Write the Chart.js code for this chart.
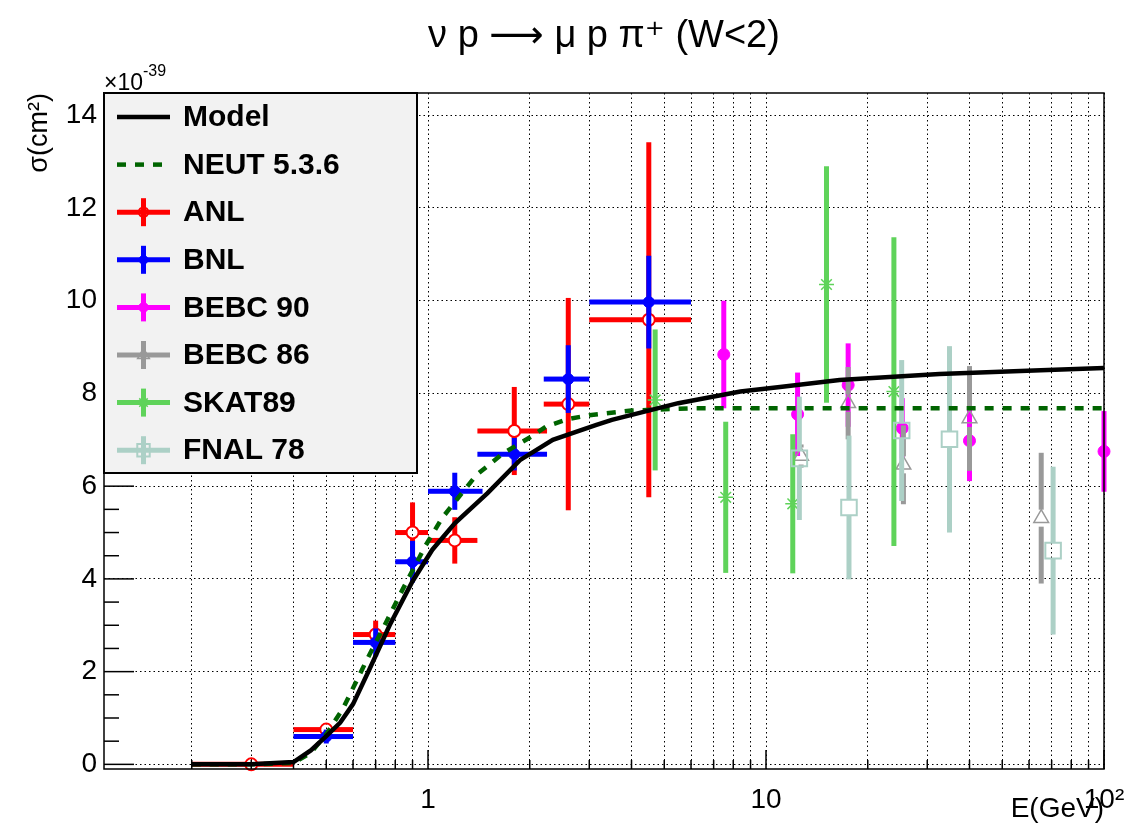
<!DOCTYPE html>
<html><head><meta charset="utf-8">
<script src="https://cdn.jsdelivr.net/npm/chart.js@4.4.0/dist/chart.umd.min.js"></script>
<style>html,body{margin:0;padding:0;background:#fff}</style>
</head><body>
<canvas id="c" width="1143" height="830"></canvas>
<script>
// ---------- data (E in GeV, sigma in 1e-39 cm^2) ----------
const modelE     = [0.2, 0.3, 0.4, 0.45, 0.5, 0.55, 0.6, 0.67, 0.77, 0.9, 1.03, 1.2, 1.5, 1.87, 2.34, 3.15, 3.5, 5.5, 8.4, 11, 16.5, 32.6, 65, 100];
const modelSigma = [0.0, 0.0, 0.05, 0.3, 0.61, 0.9, 1.3, 2.04, 3.0, 3.95, 4.63, 5.2, 5.85, 6.56, 7.0, 7.32, 7.43, 7.79, 8.04, 8.14, 8.29, 8.42, 8.50, 8.55];

const neutE     = [0.2, 0.3, 0.4, 0.45, 0.5, 0.56, 0.66, 0.75, 0.83, 0.98, 1.1, 1.39, 1.67, 2.0, 2.24, 2.6, 3.0, 4.0, 6.0, 10, 30, 100];
const neutSigma = [0.0, 0.0, 0.03, 0.25, 0.65, 1.2, 2.26, 3.05, 3.69, 4.7, 5.31, 6.24, 6.71, 7.05, 7.29, 7.45, 7.53, 7.63, 7.68, 7.68, 7.68, 7.68];

const anlE     = [0.3, 0.5, 0.7, 0.9, 1.2, 1.8, 2.6, 4.5];
const anlELow  = [0.2, 0.4, 0.6, 0.8, 1.0, 1.4, 2.2, 3.0];
const anlEHigh = [0.4, 0.6, 0.8, 1.0, 1.4, 2.25, 3.0, 6.0];
const anlSigma = [0.0, 0.75, 2.8, 5.0, 4.83, 7.19, 7.77, 9.59];
const anlErr   = [0.03, 0.1, 0.3, 0.65, 0.5, 0.95, 2.29, 3.83];

const bnlE     = [0.5, 0.7, 0.9, 1.2, 1.8, 2.6, 4.5];
const bnlELow  = [0.4, 0.6, 0.8, 1.0, 1.4, 2.2, 3.0];
const bnlEHigh = [0.6, 0.8, 1.0, 1.45, 2.25, 3.0, 6.0];
const bnlSigma = [0.6, 2.63, 4.37, 5.89, 6.69, 8.31, 9.97];
const bnlErr   = [0.15, 0.3, 0.45, 0.4, 0.35, 0.73, 1.0];

const bebc90E     = [7.5, 12.4, 17.5, 25.3, 40, 100];
const bebc90Sigma = [8.84, 7.55, 8.18, 7.25, 6.98, 6.75];
const bebc90Err   = [1.16, 0.9, 0.9, 0.65, 0.87, 0.87];

const bebc86E     = [12.7, 17.5, 25.5, 40, 65.2];
const bebc86Sigma = [6.65, 7.79, 6.46, 7.46, 5.31];
const bebc86Err   = [0.25, 0.78, 0.85, 1.13, 1.41];

const skatE     = [4.7, 7.6, 12.0, 15.1, 23.9];
const skatSigma = [7.86, 5.76, 5.62, 10.35, 8.04];
const skatErr   = [1.52, 1.63, 1.5, 2.55, 3.33];

const fnalE     = [12.55, 17.6, 25.2, 34.9, 70.7];
const fnalSigma = [6.6, 5.54, 7.2, 7.01, 4.61];
const fnalErr   = [1.33, 1.55, 1.52, 2.01, 1.81];

const xMajorValues = [1, 10, 100];
const xMajorLabels = ['1', '10', '10\u00B2'];
const yTickValues  = [0, 2, 4, 6, 8, 10, 12, 14];

// ---------- helpers ----------
const pts = (xs, ys) => xs.map((v, i) => ({x: v, y: ys[i]}));
const FONT = "'Liberation Sans', Arial, Helvetica, 'DejaVu Sans', sans-serif";

// log grid positions (2..9 x decades)
const xGridValues = [];
for (let d = -1; d <= 2; d++) {
  for (let m = 1; m <= 9; m++) {
    const v = Number((m * Math.pow(10, d)).toPrecision(6));
    if (v >= 0.11 && v <= 100) xGridValues.push(v);
  }
}

function dataSet(label, color, xs, ys, errs, opts) {
  return Object.assign({
    label, data: pts(xs, ys), yErr: errs,
    borderColor: color, backgroundColor: color,
    pointBorderColor: color, pointBackgroundColor: color,
    showLine: false, clip: false, pointHoverRadius: 0, barWidth: 5
  }, opts);
}

const datasets = [
  {label: 'Model', data: pts(modelE, modelSigma), showLine: true, borderColor: '#000', backgroundColor: '#000',
   borderWidth: 4.5, pointRadius: 0, tension: 0, order: 0, legendType: 'line'},
  {label: 'NEUT 5.3.6', data: pts(neutE, neutSigma), showLine: true, borderColor: '#006400', backgroundColor: '#006400',
   borderWidth: 4.5, borderDash: [9, 9], pointRadius: 0, tension: 0, order: 1, legendType: 'dash'},
  dataSet('ANL', '#ff0000', anlE, anlSigma, anlErr, {xLow: anlELow, xHigh: anlEHigh, pointStyle: 'circle', pointRadius: 6,
   pointBackgroundColor: 'rgba(0,0,0,0)', pointBorderWidth: 2, hollow: true, order: 7}),
  dataSet('BNL', '#0000ff', bnlE, bnlSigma, bnlErr, {xLow: bnlELow, xHigh: bnlEHigh, pointStyle: 'circle', pointRadius: 5.5,
   pointBorderWidth: 1, order: 6}),
  dataSet('BEBC 90', '#ff00ff', bebc90E, bebc90Sigma, bebc90Err, {pointStyle: 'circle', pointRadius: 6, pointBorderWidth: 1, order: 5}),
  dataSet('BEBC 86', '#999999', bebc86E, bebc86Sigma, bebc86Err, {pointStyle: 'triangle', pointRadius: 8.5,
   pointBackgroundColor: 'rgba(0,0,0,0)', pointBorderWidth: 1.5, hollow: true, order: 4}),
  dataSet('SKAT89', '#5fd35a', skatE, skatSigma, skatErr, {pointStyle: 'star', pointRadius: 7.5, pointBorderWidth: 1.5, order: 3}),
  dataSet('FNAL 78', '#acd0c6', fnalE, fnalSigma, fnalErr, {pointStyle: 'rect', pointRadius: 11,
   pointBackgroundColor: 'rgba(0,0,0,0)', pointBorderWidth: 2, hollow: true, order: 2})
];

// ---------- plugins ----------
const errorBars = {
  id: 'errorBars',
  beforeDatasetDraw(chart, args) {
    const ds = chart.data.datasets[args.index];
    if (!ds.yErr) return;
    const xs = chart.scales.x, ys = chart.scales.y, ctx = chart.ctx;
    ctx.save();
    ctx.strokeStyle = ds.borderColor;
    ctx.lineWidth = ds.barWidth;
    ctx.lineCap = 'butt';
    const seg = (x1, y1, x2, y2) => { ctx.beginPath(); ctx.moveTo(x1, y1); ctx.lineTo(x2, y2); ctx.stroke(); };
    ds.data.forEach((p, i) => {
      const px = xs.getPixelForValue(p.x), py = ys.getPixelForValue(p.y);
      const gap = ds.hollow ? ds.pointRadius * (ds.pointStyle === 'rect' ? 0.72 : 1) : 0;
      const yt = ys.getPixelForValue(p.y + ds.yErr[i]);
      const yb = ys.getPixelForValue(p.y - ds.yErr[i]);
      if (yt < py - gap) seg(px, yt, px, py - gap);
      if (yb > py + gap) seg(px, py + gap, px, yb);
      if (ds.xLow) {
        const xl = xs.getPixelForValue(ds.xLow[i]), xr = xs.getPixelForValue(ds.xHigh[i]);
        if (xl < px - gap) seg(xl, py, px - gap, py);
        if (xr > px + gap) seg(px + gap, py, xr, py);
      }
    });
    ctx.restore();
  }
};

const decor = {
  id: 'decor',
  afterDraw(chart) {
    const ctx = chart.ctx, a = chart.chartArea, xs = chart.scales.x, ys = chart.scales.y;
    ctx.save();
    // inside ticks
    ctx.strokeStyle = '#000'; ctx.lineWidth = 1.5; ctx.setLineDash([]);
    xGridValues.forEach(v => {
      const px = xs.getPixelForValue(v);
      const len = xMajorValues.includes(v) ? 19 : 9;
      ctx.beginPath(); ctx.moveTo(px, a.bottom); ctx.lineTo(px, a.bottom - len); ctx.stroke();
    });
    for (let k = 0; k <= 28; k++) {
      const v = k * 0.5;
      const py = ys.getPixelForValue(v);
      const len = (k % 4 === 0) ? 30 : 15;
      ctx.beginPath(); ctx.moveTo(a.left, py); ctx.lineTo(a.left + len, py); ctx.stroke();
    }
    // frame
    ctx.lineWidth = 1.5;
    ctx.strokeRect(a.left, a.top, a.right - a.left, a.bottom - a.top);
    // exponent label
    ctx.fillStyle = '#000';
    ctx.textBaseline = 'alphabetic'; ctx.textAlign = 'left';
    ctx.font = '23px ' + FONT;
    ctx.fillText('\u00D710', a.left, a.top - 3);
    const w = ctx.measureText('\u00D710').width;
    ctx.font = '16px ' + FONT;
    ctx.fillText('-39', a.left + w, a.top - 17);

    // legend
    const L = {x: a.left, y: a.top, w: 313, h: 380};
    ctx.fillStyle = '#f2f2f2';
    ctx.fillRect(L.x, L.y, L.w, L.h);
    ctx.strokeStyle = '#000'; ctx.lineWidth = 2;
    ctx.strokeRect(L.x, L.y, L.w, L.h);
    const x1 = L.x + 13, x2 = L.x + 66, xc = (x1 + x2) / 2;
    chart.data.datasets.forEach((ds, i) => {
      const yc = L.y + 24 + i * 47.6;
      ctx.save();
      if (ds.legendType === 'line' || ds.legendType === 'dash') {
        ctx.strokeStyle = ds.borderColor; ctx.lineWidth = ds.borderWidth;
        ctx.setLineDash(ds.borderDash || []);
        ctx.beginPath(); ctx.moveTo(x1, yc); ctx.lineTo(x2, yc); ctx.stroke();
      } else {
        ctx.strokeStyle = ds.borderColor; ctx.lineWidth = 5; ctx.setLineDash([]);
        ctx.beginPath(); ctx.moveTo(x1, yc); ctx.lineTo(x2, yc); ctx.stroke();
        ctx.beginPath(); ctx.moveTo(xc, yc - 14); ctx.lineTo(xc, yc + 14); ctx.stroke();
        ctx.fillStyle = ds.pointBackgroundColor; ctx.strokeStyle = ds.pointBorderColor; ctx.lineWidth = ds.pointBorderWidth;
        Chart.helpers.drawPoint(ctx, {pointStyle: ds.pointStyle, radius: ds.pointRadius * 0.8, borderWidth: ds.pointBorderWidth}, xc, yc);
      }
      ctx.restore();
      ctx.fillStyle = '#000';
      ctx.font = 'bold 30px ' + FONT;
      ctx.textAlign = 'left'; ctx.textBaseline = 'middle';
      ctx.fillText(ds.label, L.x + 79, yc + 1);
    });
    ctx.restore();
  }
};

// ---------- chart ----------
new Chart(document.getElementById('c'), {
  type: 'scatter',
  data: {datasets},
  plugins: [errorBars, decor],
  options: {
    responsive: false, animation: false,
    layout: {padding: {left: 0, right: 39, top: 0, bottom: 0}},
    plugins: {
      legend: {display: false}, tooltip: {enabled: false},
      title: {display: true, text: '\u03BD p \u27F6 \u03BC p \u03C0\u207A (W<2)', fullSize: false,
        color: '#000', font: {family: FONT, size: 38, weight: 'normal'}, padding: {top: 14, bottom: 33.4}}
    },
    scales: {
      x: {
        type: 'logarithmic', min: 0.11, max: 100, bounds: 'data',
        afterBuildTicks: s => { s.ticks = xGridValues.map(v => ({value: v, major: xMajorValues.includes(v)})); },
        afterFit: s => { s.height = 61; },
        ticks: {autoSkip: false, maxRotation: 0, minRotation: 0, padding: 14, color: '#000',
          font: {family: FONT, size: 28},
          callback: v => { const k = xMajorValues.indexOf(v); return k >= 0 ? xMajorLabels[k] : ''; }},
        grid: {color: '#000', lineWidth: 1, drawTicks: false},
        border: {display: false, dash: [1.5, 3]},
        title: {display: true, text: 'E(GeV)', align: 'end', color: '#000', font: {family: FONT, size: 28}, padding: {top: 0, bottom: 4}}
      },
      y: {
        type: 'linear', min: -0.1, max: 14.48, bounds: 'data',
        afterBuildTicks: s => { s.ticks = yTickValues.map(v => ({value: v})); },
        afterFit: s => { s.width = 104; },
        ticks: {padding: 7, color: '#000', font: {family: FONT, size: 28}},
        grid: {color: '#000', lineWidth: 1, drawTicks: false},
        border: {display: false, dash: [1.5, 3]},
        title: {display: true, text: '\u03C3(cm\u00B2)', align: 'end', color: '#000', font: {family: FONT, size: 27}, padding: {top: 23, bottom: 0}}
      }
    }
  }
});
</script>
</body></html>
